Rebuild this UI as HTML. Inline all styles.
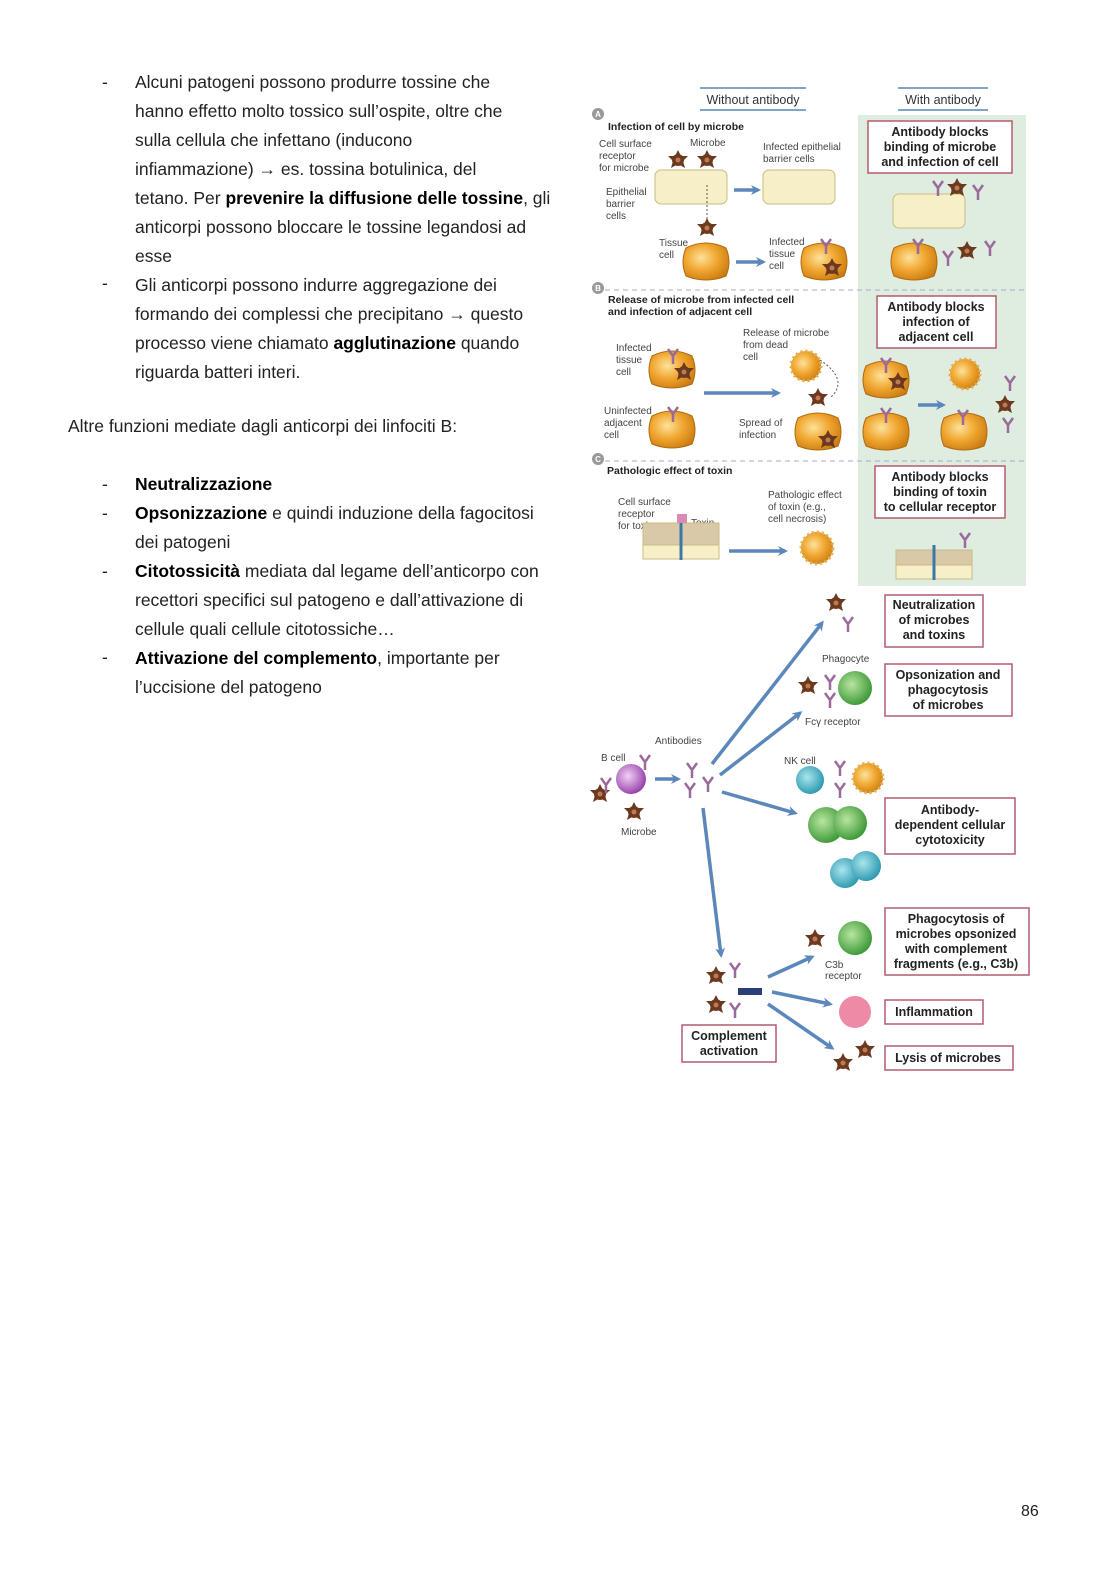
<!DOCTYPE html>
<html><head><meta charset="utf-8"><style>
html,body{margin:0;padding:0;background:#fff}
body{width:1116px;height:1579px;position:relative;overflow:hidden;font-family:"Liberation Sans",sans-serif}
.t{position:absolute;font-size:17.5px;color:#222;white-space:nowrap;line-height:29px}
.d{position:absolute;left:102px}
b{font-weight:bold;color:#000}
svg{position:absolute;left:0;top:0}
</style></head><body>
<div class="t" style="left:135px;top:68px">Alcuni patogeni possono produrre tossine che<br>hanno effetto molto tossico sull’ospite, oltre che<br>sulla cellula che infettano (inducono<br>infiammazione) → es. tossina botulinica, del<br>tetano. Per <b>prevenire la diffusione delle tossine</b>, gli<br>anticorpi possono bloccare le tossine legandosi ad<br>esse<br>Gli anticorpi possono indurre aggregazione dei<br>formando dei complessi che precipitano → questo<br>processo viene chiamato <b>agglutinazione</b> quando<br>riguarda batteri interi.</div>
<div class="t d" style="top:68px">-</div>
<div class="t d" style="top:269px">-</div>
<div class="t" style="left:68px;top:412px">Altre funzioni mediate dagli anticorpi dei linfociti B:</div>
<div class="t" style="left:135px;top:470px"><b>Neutralizzazione</b><br><b>Opsonizzazione</b> e quindi induzione della fagocitosi<br>dei patogeni<br><b>Citotossicità</b> mediata dal legame dell’anticorpo con<br>recettori specifici sul patogeno e dall’attivazione di<br>cellule quali cellule citotossiche…<br><b>Attivazione del complemento</b>, importante per<br>l’uccisione del patogeno</div>
<div class="t d" style="top:470px">-</div><div class="t d" style="top:499px">-</div><div class="t d" style="top:557px">-</div><div class="t d" style="top:643px">-</div>
<div class="t" style="left:1021px;top:1497px;font-size:16px">86</div>

<svg width="1116" height="1579" viewBox="0 0 1116 1579" font-family="Liberation Sans, sans-serif">
<defs>
<radialGradient id="og" cx="0.4" cy="0.4" r="0.7"><stop offset="0" stop-color="#fde29a"/><stop offset="0.5" stop-color="#f0a630"/><stop offset="1" stop-color="#c8780e"/></radialGradient>
<radialGradient id="gg" cx="0.4" cy="0.4" r="0.7"><stop offset="0" stop-color="#b8e6a0"/><stop offset="1" stop-color="#2e8f2a"/></radialGradient>
<radialGradient id="bg" cx="0.4" cy="0.4" r="0.7"><stop offset="0" stop-color="#a8e6ee"/><stop offset="1" stop-color="#1f8fa8"/></radialGradient>
<radialGradient id="pg" cx="0.4" cy="0.4" r="0.7"><stop offset="0" stop-color="#f2d0f5"/><stop offset="1" stop-color="#8a2fa0"/></radialGradient>
<g id="m"><circle r="6" fill="#7a3d22"/><path d="M0,-10 L3,-4 10,-4 5,1 7,8 0,4 -7,8 -5,1 -10,-4 -3,-4Z" fill="#6b3820"/><circle r="2.5" fill="#c07a50"/></g>
<g id="c"><path d="M-20,-14 Q0,-24 20,-14 Q26,0 20,14 Q0,22 -20,14 Q-26,0 -20,-14Z" fill="url(#og)" stroke="#b06a10"/></g>
<g id="ab" stroke="#9a6a9a" stroke-width="2.5" fill="none"><path d="M0,8 V0 L-5,-7 M0,0 L5,-7"/></g>
<marker id="ar" markerWidth="10" markerHeight="10" refX="7" refY="5" orient="auto" markerUnits="userSpaceOnUse"><path d="M0,0 L10,5 L0,10 L3,5Z" fill="#5b87bb"/></marker>
</defs>
<rect x="858" y="115" width="168" height="471" fill="#dfece0"/>
<g stroke="#aac" stroke-width="1" stroke-dasharray="5,4"><line x1="605" y1="290" x2="1026" y2="290"/><line x1="605" y1="461" x2="1026" y2="461"/></g>
<g stroke="#7fa6c6" stroke-width="2"><line x1="700" y1="88" x2="806" y2="88"/><line x1="700" y1="110" x2="806" y2="110"/><line x1="898" y1="88" x2="988" y2="88"/><line x1="898" y1="110" x2="988" y2="110"/></g>
<g font-size="12.5" fill="#333"><text x="753" y="104" text-anchor="middle">Without antibody</text><text x="943" y="104" text-anchor="middle">With antibody</text></g>
<g fill="#999"><circle cx="598" cy="114" r="6"/><circle cx="598" cy="288" r="6"/><circle cx="598" cy="459" r="6"/></g>
<g font-size="8" fill="#fff" font-weight="bold" text-anchor="middle"><text x="598" y="117">A</text><text x="598" y="291">B</text><text x="598" y="462">C</text></g>
<g font-size="10.5" font-weight="bold" fill="#222"><text x="608" y="130">Infection of cell by microbe</text><text x="608" y="303">Release of microbe from infected cell</text><text x="608" y="315">and infection of adjacent cell</text><text x="607" y="474">Pathologic effect of toxin</text></g>
<g font-size="10" fill="#444">
<text x="599" y="147">Cell surface</text><text x="599" y="159">receptor</text><text x="599" y="171">for microbe</text>
<text x="690" y="146">Microbe</text><text x="763" y="150">Infected epithelial</text><text x="763" y="162">barrier cells</text>
<text x="606" y="195">Epithelial</text><text x="606" y="207">barrier</text><text x="606" y="219">cells</text>
<text x="659" y="246">Tissue</text><text x="659" y="258">cell</text><text x="769" y="245">Infected</text><text x="769" y="257">tissue</text><text x="769" y="269">cell</text>
<text x="616" y="351">Infected</text><text x="616" y="363">tissue</text><text x="616" y="375">cell</text>
<text x="743" y="336">Release of microbe</text><text x="743" y="348">from dead</text><text x="743" y="360">cell</text>
<text x="604" y="414">Uninfected</text><text x="604" y="426">adjacent</text><text x="604" y="438">cell</text>
<text x="739" y="426">Spread of</text><text x="739" y="438">infection</text>
<text x="618" y="505">Cell surface</text><text x="618" y="517">receptor</text><text x="618" y="529">for toxin</text><text x="691" y="526">Toxin</text>
<text x="768" y="498">Pathologic effect</text><text x="768" y="510">of toxin (e.g.,</text><text x="768" y="522">cell necrosis)</text>
<text x="655" y="744">Antibodies</text><text x="601" y="761">B cell</text><text x="621" y="835">Microbe</text>
<text x="822" y="662">Phagocyte</text><text x="805" y="725">Fcγ receptor</text><text x="784" y="764">NK cell</text><text x="825" y="968">C3b</text><text x="825" y="979">receptor</text>
</g>
<!-- epithelium -->
<g fill="#f6efc8" stroke="#c9bb80"><rect x="655" y="170" width="72" height="34" rx="6"/><rect x="763" y="170" width="72" height="34" rx="6"/><rect x="893" y="194" width="72" height="34" rx="6"/>
<rect x="643" y="523" width="76" height="22" fill="#d9c9a8"/><rect x="643" y="545" width="76" height="14"/><rect x="896" y="550" width="76" height="15" fill="#d9c9a8"/><rect x="896" y="565" width="76" height="14"/></g>
<line x1="681" y1="520" x2="681" y2="560" stroke="#3a78a8" stroke-width="3"/><rect x="677" y="514" width="10" height="9" fill="#d98ab5"/>
<line x1="934" y1="545" x2="934" y2="580" stroke="#3a78a8" stroke-width="3"/>
<line x1="707" y1="185" x2="707" y2="222" stroke="#555" stroke-dasharray="2,2"/>
<!-- cells -->
<use href="#c" x="706" y="262"/><use href="#c" x="824" y="262"/><use href="#c" x="914" y="262"/>
<use href="#c" x="672" y="370"/><use href="#c" x="672" y="430"/><use href="#c" x="818" y="432"/><use href="#c" x="886" y="380"/><use href="#c" x="886" y="432"/><use href="#c" x="964" y="432"/>
<circle cx="806" cy="366" r="15" fill="url(#og)" stroke="#e0b050" stroke-width="3" stroke-dasharray="2,3"/><circle cx="965" cy="374" r="15" fill="url(#og)" stroke="#e0b050" stroke-width="3" stroke-dasharray="2,3"/><circle cx="817" cy="548" r="16" fill="url(#og)" stroke="#e0b050" stroke-width="3" stroke-dasharray="2,3"/>
<use href="#m" x="678" y="160"/><use href="#m" x="707" y="160"/><use href="#m" x="707" y="228"/><use href="#m" x="957" y="188"/><use href="#m" x="967" y="251"/><use href="#m" x="832" y="268"/><use href="#m" x="684" y="372"/><use href="#m" x="818" y="398"/><use href="#m" x="898" y="382"/><use href="#m" x="1005" y="405"/><use href="#m" x="828" y="440"/>
<use href="#m" x="836" y="603"/><use href="#m" x="808" y="686"/><use href="#m" x="600" y="794"/><use href="#m" x="634" y="812"/><use href="#m" x="815" y="939"/><use href="#m" x="716" y="976"/><use href="#m" x="716" y="1005"/><use href="#m" x="865" y="1050"/><use href="#m" x="843" y="1063"/>
<use href="#ab" x="673" y="356"/><use href="#ab" x="673" y="414"/><use href="#ab" x="918" y="246"/><use href="#ab" x="826" y="246"/><use href="#ab" x="886" y="365"/><use href="#ab" x="886" y="415"/><use href="#ab" x="963" y="417"/><use href="#ab" x="938" y="188"/><use href="#ab" x="978" y="192"/><use href="#ab" x="948" y="258"/><use href="#ab" x="990" y="248"/><use href="#ab" x="965" y="540"/><use href="#ab" x="1010" y="383"/><use href="#ab" x="1008" y="425"/>
<use href="#ab" x="848" y="624"/><use href="#ab" x="830" y="682"/><use href="#ab" x="830" y="700"/><use href="#ab" x="692" y="770"/><use href="#ab" x="708" y="784"/><use href="#ab" x="690" y="790"/><use href="#ab" x="645" y="762"/><use href="#ab" x="606" y="785"/><use href="#ab" x="840" y="768"/><use href="#ab" x="840" y="790"/><use href="#ab" x="735" y="970"/><use href="#ab" x="735" y="1010"/>
<!-- green/blue cells -->
<circle cx="855" cy="688" r="17" fill="url(#gg)"/><circle cx="826" cy="825" r="18" fill="url(#gg)"/><circle cx="850" cy="823" r="17" fill="url(#gg)"/><circle cx="845" cy="873" r="15" fill="url(#bg)"/><circle cx="866" cy="866" r="15" fill="url(#bg)"/><circle cx="810" cy="780" r="14" fill="url(#bg)"/><circle cx="868" cy="778" r="15" fill="url(#og)" stroke="#e0b050" stroke-width="3" stroke-dasharray="2,3"/><circle cx="855" cy="938" r="17" fill="url(#gg)"/><circle cx="631" cy="779" r="15" fill="url(#pg)"/><circle cx="855" cy="1012" r="16" fill="#ee8aa6"/>
<rect x="738" y="988" width="24" height="7" fill="#2a3f7a"/>
<!-- arrows -->
<g stroke="#5b87bb" stroke-width="3.5" marker-end="url(#ar)" fill="none">
<line x1="734" y1="190" x2="758" y2="190"/><line x1="736" y1="262" x2="763" y2="262"/><line x1="704" y1="393" x2="778" y2="393"/><line x1="918" y1="405" x2="943" y2="405"/><line x1="729" y1="551" x2="785" y2="551"/>
<line x1="655" y1="779" x2="678" y2="779"/><line x1="712" y1="764" x2="822" y2="623"/><line x1="720" y1="775" x2="800" y2="713"/><line x1="722" y1="792" x2="795" y2="813"/><line x1="703" y1="808" x2="721" y2="955"/>
<line x1="768" y1="977" x2="812" y2="957"/><line x1="772" y1="992" x2="830" y2="1004"/><line x1="768" y1="1004" x2="832" y2="1048"/></g>
<path d="M820,360 Q850,380 830,398" stroke="#555" fill="none" stroke-dasharray="2,2"/>
<!-- boxes -->
<g fill="#fff" stroke="#b45b6e" stroke-width="1.5">
<rect x="868" y="121" width="144" height="52"/><rect x="877" y="296" width="119" height="52"/><rect x="875" y="466" width="130" height="52"/>
<rect x="885" y="595" width="98" height="52"/><rect x="885" y="664" width="127" height="52"/><rect x="885" y="798" width="130" height="56"/><rect x="885" y="908" width="144" height="67"/><rect x="885" y="1000" width="98" height="24"/><rect x="885" y="1046" width="128" height="24"/><rect x="682" y="1025" width="94" height="37"/></g>
<g font-size="12.5" font-weight="bold" fill="#222" text-anchor="middle">
<text x="940" y="136">Antibody blocks</text><text x="940" y="151">binding of microbe</text><text x="940" y="166">and infection of cell</text>
<text x="936" y="311">Antibody blocks</text><text x="936" y="326">infection of</text><text x="936" y="341">adjacent cell</text>
<text x="940" y="481">Antibody blocks</text><text x="940" y="496">binding of toxin</text><text x="940" y="511">to cellular receptor</text>
<text x="934" y="609">Neutralization</text><text x="934" y="624">of microbes</text><text x="934" y="639">and toxins</text>
<text x="948" y="679">Opsonization and</text><text x="948" y="694">phagocytosis</text><text x="948" y="709">of microbes</text>
<text x="950" y="814">Antibody-</text><text x="950" y="829">dependent cellular</text><text x="950" y="844">cytotoxicity</text>
<text x="956" y="923">Phagocytosis of</text><text x="956" y="938">microbes opsonized</text><text x="956" y="953">with complement</text><text x="956" y="968">fragments (e.g., C3b)</text>
<text x="934" y="1016">Inflammation</text><text x="948" y="1062">Lysis of microbes</text><text x="729" y="1040">Complement</text><text x="729" y="1055">activation</text></g>
</svg>
</body></html>
